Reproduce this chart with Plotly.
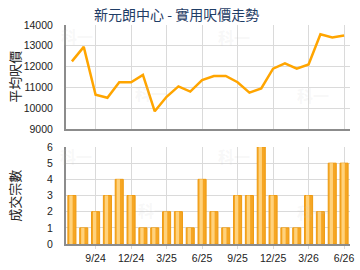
import plotly.graph_objects as go
from plotly.subplots import make_subplots

months = ["7/24", "8/24", "9/24", "10/24", "11/24", "12/24", "1/25", "2/25", "3/25",
          "4/25", "5/25", "6/25", "7/25", "8/25", "9/25", "10/25", "11/25", "12/25",
          "1/26", "2/26", "3/26", "4/26", "5/26", "6/26"]
avg_price = [12250, 12950, 10650, 10500, 11250, 11250, 11600, 9850, 10550, 11050,
             10800, 11350, 11550, 11550, 11250, 10750, 10950, 11900, 12150, 11900,
             12100, 13550, 13400, 13500]
deals = [3, 1, 2, 3, 4, 3, 1, 1, 2, 2, 1, 4, 2, 1, 3, 3, 6, 3, 1, 1, 3, 2, 5, 5]
tick_labels = ["9/24", "12/24", "3/25", "6/25", "9/25", "12/25", "3/26", "6/26"]

title_text = "新元朗中心 - 實用呎價走勢"
y1_title = "平均呎價"
y2_title = "成交宗數"
watermark = "科一"

W, H = 360, 270
ml, mr, mt, mb = 66, 6, 25, 26
ph = H - mt - mb
pw = W - ml - mr

def py(pix):
    return (H - mb - pix) / ph

def px(pix):
    return (pix - ml) / pw

fig = make_subplots(rows=2, cols=1, shared_xaxes=False, vertical_spacing=0.05)

fig.add_trace(go.Scatter(x=months, y=avg_price, mode="lines",
                         line=dict(color="#FFA500", width=2.5), showlegend=False),
              row=1, col=1)
fig.add_trace(go.Bar(x=months, y=deals, width=0.68,
                     marker=dict(color="#F6A623", line=dict(color="#EE9A10", width=1)),
                     showlegend=False), row=2, col=1)
fig.add_trace(go.Bar(x=months, y=deals, width=0.28, offset=-0.22,
                     marker=dict(color="#FFD27C", line=dict(width=0)),
                     showlegend=False, hoverinfo="skip"), row=2, col=1)

axis_common = dict(showgrid=True, gridcolor="#DADADA", gridwidth=1,
                   showline=True, linecolor="#8C8C8C", linewidth=2,
                   zeroline=False, tickfont=dict(family="Liberation Sans, Arial", size=10.5, color="#222"))

fig.update_layout(
    width=W, height=H, barmode="overlay",
    margin=dict(l=ml, r=mr, t=mt, b=mb),
    paper_bgcolor="white", plot_bgcolor="white",
    xaxis=dict(domain=[0, 1], type="category", categoryorder="array", categoryarray=months,
               range=[-0.5, 23.5], tickmode="array", tickvals=tick_labels, showticklabels=False,
               ticks="", anchor="y", **axis_common),
    yaxis=dict(domain=[py(129), 1], range=[9000, 14000], dtick=1000, ticks="", tickformat="d",
               ticklabelstandoff=9, anchor="x", **axis_common),
    xaxis2=dict(domain=[0, 1], type="category", categoryorder="array", categoryarray=months,
                range=[-0.5, 23.5], tickmode="array", tickvals=tick_labels, ticktext=tick_labels,
                ticks="outside", ticklen=3, tickcolor="#DADADA", anchor="y2", **axis_common),
    yaxis2=dict(domain=[0, py(147)], range=[0, 6], dtick=1, ticks="", tickformat="d",
                ticklabelstandoff=9, anchor="x2", **axis_common),
)

annotations = [
    dict(text=title_text, x=px(178), y=1 + 11 / ph, xref="paper", yref="paper",
         showarrow=False, xanchor="center", yanchor="middle",
         font=dict(family="Noto Sans CJK TC", size=14, color="#1F3D66")),
    dict(text=y1_title, x=px(13), y=py(77), xref="paper", yref="paper", textangle=-90,
         showarrow=False, xanchor="center", yanchor="middle",
         font=dict(family="Noto Sans CJK TC", size=13, color="#222")),
    dict(text=y2_title, x=px(13), y=py(196), xref="paper", yref="paper", textangle=-90,
         showarrow=False, xanchor="center", yanchor="middle",
         font=dict(family="Noto Sans CJK TC", size=13, color="#222")),
]
for (wx, wy) in [(77, 36), (152, 93), (236, 37), (316, 95), (76, 156), (155, 210), (236, 156), (316, 212)]:
    annotations.append(dict(text="<b>" + watermark + "</b>", x=px(wx), y=py(wy), xref="paper", yref="paper",
                            showarrow=False, xanchor="center", yanchor="middle",
                            font=dict(family="Noto Sans CJK TC", size=16, color="rgba(200,200,200,0.15)")))
fig.update_layout(annotations=annotations)

fig.write_html("out.html")
